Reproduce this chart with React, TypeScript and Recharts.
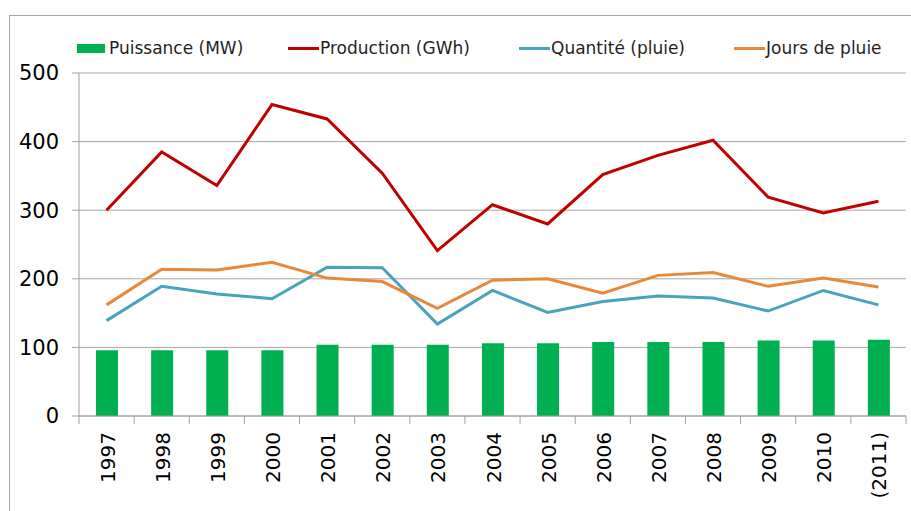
import React from "react";
import { ComposedChart, Bar, Line, XAxis, YAxis, CartesianGrid } from "recharts";

const years = ["1997", "1998", "1999", "2000", "2001", "2002", "2003", "2004", "2005", "2006", "2007", "2008", "2009", "2010", "(2011)"];
const puissance = [96, 96, 96, 96, 104, 104, 104, 106, 106, 108, 108, 108, 110, 110, 111];
const production = [300, 385, 336, 454, 433, 354, 241, 308, 280, 352, 380, 402, 319, 296, 313];
const quantite = [139, 189, 178, 171, 217, 216, 134, 183, 151, 167, 175, 172, 153, 183, 162];
const jours = [162, 214, 213, 224, 201, 196, 157, 198, 200, 179, 205, 209, 189, 201, 188];
const yTicks = [0, 100, 200, 300, 400, 500];

const data = years.map((y, i) => ({
  year: y,
  puissance: puissance[i],
  production: production[i],
  quantite: quantite[i],
  jours: jours[i],
}));

const FONT = "'DejaVu Sans', Verdana, sans-serif";
const AXIS = "#a0a0a0";
const GREEN = "#00B050";
const RED = "#C00000";
const TEAL = "#4AA3BC";
const ORANGE = "#E8883A";

const W = 911;
const H = 511;
const LEFT = 79;
const RIGHT_M = 5;
const HALF_BAND = (W - LEFT - RIGHT_M) / years.length / 2;

const XTick = (props: any) => {
  const { x, y, payload, index } = props;
  const top = y - 8;
  return (
    <g>
      <line x1={x - HALF_BAND} x2={x - HALF_BAND} y1={top} y2={top + 8} stroke={AXIS} strokeWidth={1} />
      {index === years.length - 1 && (
        <line x1={x + HALF_BAND} x2={x + HALF_BAND} y1={top} y2={top + 8} stroke={AXIS} strokeWidth={1} />
      )}
      <text
        x={x + 1}
        y={y + 8}
        transform={`rotate(-90, ${x + 1}, ${y + 8})`}
        textAnchor="end"
        dominantBaseline="central"
        fill="#000"
        fontSize={20}
        fontFamily={FONT}
      >
        {payload.value}
      </text>
    </g>
  );
};

const legendItems = [
  { label: "Puissance (MW)", color: GREEN, kind: "rect", left: 77 },
  { label: "Production (GWh)", color: RED, kind: "line", left: 288 },
  { label: "Quantité (pluie)", color: TEAL, kind: "line", left: 519 },
  { label: "Jours de pluie", color: ORANGE, kind: "line", left: 734 },
];

export default function App() {
  return (
    <div style={{ position: "absolute", left: 0, top: 0, width: W, height: H, overflow: "hidden", background: "#fff" }}>
      <div
        style={{
          position: "absolute",
          left: 9,
          top: 15,
          width: W + 20,
          height: H + 20,
          border: "1px solid #a6a6a6",
          boxSizing: "border-box",
        }}
      />
      <div style={{ position: "absolute", left: 0, top: 0 }}>
        <ComposedChart width={W} height={H} data={data} margin={{ top: 73, right: RIGHT_M, bottom: 5, left: 0 }}>
          <CartesianGrid vertical={false} stroke="#a6a6a6" strokeWidth={1} />
          <XAxis
            dataKey="year"
            interval={0}
            height={90}
            axisLine={{ stroke: AXIS }}
            tickLine={false}
            tickSize={8}
            tickMargin={0}
            tick={<XTick />}
          />
          <YAxis
            width={LEFT}
            domain={[0, 500]}
            ticks={yTicks}
            axisLine={{ stroke: AXIS }}
            tickLine={{ stroke: AXIS }}
            tickSize={7}
            tickMargin={13}
            tick={{ fill: "#000", fontSize: 21, fontFamily: FONT }}
          />
          <Bar dataKey="puissance" fill={GREEN} barSize={22} isAnimationActive={false} />
          <Line type="linear" dataKey="production" stroke={RED} strokeWidth={3} dot={false} activeDot={false} isAnimationActive={false} />
          <Line type="linear" dataKey="quantite" stroke={TEAL} strokeWidth={3} dot={false} activeDot={false} isAnimationActive={false} />
          <Line type="linear" dataKey="jours" stroke={ORANGE} strokeWidth={3} dot={false} activeDot={false} isAnimationActive={false} />
        </ComposedChart>
      </div>
      {legendItems.map((it) => (
        <div
          key={it.label}
          style={{
            position: "absolute",
            left: it.left,
            top: 36,
            height: 24,
            display: "flex",
            alignItems: "center",
            fontFamily: FONT,
            fontSize: 17,
            color: "#1f1f1f",
            whiteSpace: "nowrap",
          }}
        >
          {it.kind === "rect" ? (
            <span style={{ display: "inline-block", width: 28, height: 9, background: it.color, marginRight: 4 }} />
          ) : (
            <span style={{ display: "inline-block", width: 31, height: 3, background: it.color, marginRight: 1 }} />
          )}
          <span>{it.label}</span>
        </div>
      ))}
    </div>
  );
}
